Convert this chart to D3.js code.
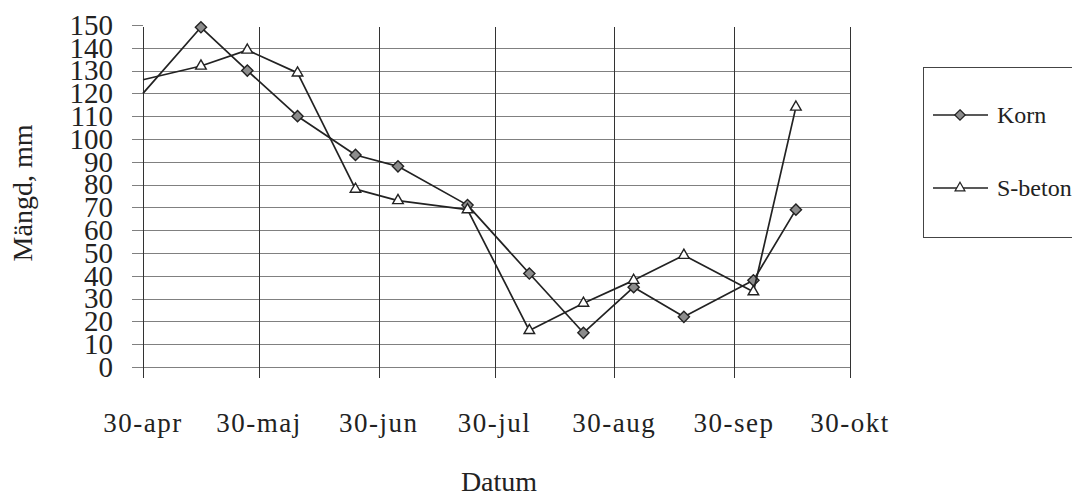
<!DOCTYPE html>
<html>
<head>
<meta charset="utf-8">
<script src="https://cdn.jsdelivr.net/npm/d3@7"></script>
<style>
  html, body { margin: 0; padding: 0; background: #fff; overflow: hidden; }
  svg { display: block; }
  text { font-family: "Liberation Serif", "DejaVu Serif", "Times New Roman", serif; }
</style>
</head>
<body>
<svg id="chart" width="1072" height="497"></svg>
<script>
// Sampling dates and measured amounts (mm)
const sampleDates = ["2001-04-30","2001-05-15","2001-05-27","2001-06-09","2001-06-24","2001-07-05",
                     "2001-07-23","2001-08-08","2001-08-22","2001-09-04","2001-09-17","2001-10-05","2001-10-16"];
const korn   = [120, 149, 130, 110, 93, 88, 71, 41, 15, 35, 22, 38, 69];
const sbeton = [126, 132, 139, 129, 78, 73, 69, 16, 28, 38, 49, 33, 114];
const seriesNames = ["Korn", "S-beton"];

// Axis ticks
const xTickDates  = ["2001-04-30","2001-05-30","2001-06-30","2001-07-30","2001-08-30","2001-09-30","2001-10-30"];
const xTickLabels = ["30-apr","30-maj","30-jun","30-jul","30-aug","30-sep","30-okt"];
const yTicks = [0,10,20,30,40,50,60,70,80,90,100,110,120,130,140,150];

const FONT = "Liberation Serif, DejaVu Serif, Times New Roman, serif";
const parse = d3.timeParse("%Y-%m-%d");
const svg = d3.select("#chart").attr("font-family", FONT);

const x = d3.scaleTime()
  .domain([parse(xTickDates[0]), parse(xTickDates[xTickDates.length - 1])])
  .range([143, 850]);
const y = d3.scaleLinear().domain([0, 150]).range([367, 25]);

const ink = "#222";

// Horizontal grid lines (with outside tick stubs)
svg.append("g").selectAll("line").data(yTicks).join("line")
  .attr("x1", 132)
  .attr("x2", d => d === 150 ? x.range()[0] : x.range()[1])
  .attr("y1", d => Math.round(y(d)) + 0.5).attr("y2", d => Math.round(y(d)) + 0.5)
  .attr("stroke", "#808080").attr("stroke-width", 1);

// Vertical month lines (with tick stubs below the zero line)
svg.append("g").selectAll("line").data(xTickDates).join("line")
  .attr("x1", d => Math.round(x(parse(d))) + 0.5).attr("x2", d => Math.round(x(parse(d))) + 0.5)
  .attr("y1", 27).attr("y2", 378)
  .attr("stroke", "#333").attr("stroke-width", 1);

// Y tick labels
svg.append("g").selectAll("text").data(yTicks).join("text")
  .attr("font-family", FONT)
  .attr("x", 113).attr("y", d => y(d))
  .attr("dy", "0.34em")
  .attr("text-anchor", "end")
  .attr("font-size", 29).attr("fill", ink)
  .text(d => d);

// X tick labels
svg.append("g").selectAll("text").data(xTickDates).join("text")
  .attr("font-family", FONT)
  .attr("x", d => x(parse(d))).attr("y", 432)
  .attr("text-anchor", "middle")
  .attr("font-size", 27).attr("letter-spacing", 1.5).attr("fill", ink)
  .text((d, i) => xTickLabels[i]);

// Axis titles
svg.append("text")
  .attr("font-family", FONT)
  .attr("transform", "translate(32,193) rotate(-90)")
  .attr("text-anchor", "middle")
  .attr("font-size", 28).attr("fill", ink)
  .text("Mängd, mm");
svg.append("text")
  .attr("font-family", FONT)
  .attr("x", 499).attr("y", 491)
  .attr("text-anchor", "middle")
  .attr("font-size", 28).attr("fill", ink)
  .text("Datum");

// Series
const series = [
  { name: seriesNames[0], values: korn,   marker: d3.symbolDiamond2,  fill: "#8c8c8c" },
  { name: seriesNames[1], values: sbeton, marker: d3.symbolTriangle2, fill: "#fff" }
];
const line = d3.line().x(d => x(d.date)).y(d => y(d.value));

series.forEach(s => {
  const pts = sampleDates.map((d, i) => ({ date: parse(d), value: s.values[i] }));
  svg.append("path").datum(pts)
    .attr("d", line)
    .attr("fill", "none").attr("stroke", ink).attr("stroke-width", 1.7)
    .attr("stroke-linejoin", "round");
  svg.append("g").selectAll("path").data(pts.slice(1)).join("path")
    .attr("transform", d => `translate(${x(d.date)},${y(d.value)})`)
    .attr("d", d3.symbol(s.marker, 80))
    .attr("fill", s.fill).attr("stroke", ink).attr("stroke-width", 1.4);
});

// Legend
const legend = svg.append("g");
legend.append("rect")
  .attr("x", 923.5).attr("y", 67.5).attr("width", 170).attr("height", 170)
  .attr("fill", "none").attr("stroke", "#444").attr("stroke-width", 1);
series.forEach((s, i) => {
  const ly = 115 + i * 73;
  legend.append("line")
    .attr("x1", 933).attr("x2", 988).attr("y1", ly).attr("y2", ly)
    .attr("stroke", ink).attr("stroke-width", 1.3);
  legend.append("path")
    .attr("transform", `translate(960,${ly})`)
    .attr("d", d3.symbol(s.marker, 70))
    .attr("fill", s.fill).attr("stroke", ink).attr("stroke-width", 1.2);
  legend.append("text")
    .attr("font-family", FONT)
    .attr("x", 997).attr("y", ly + 8)
    .attr("font-size", 24).attr("fill", ink)
    .text(s.name);
});
</script>
</body>
</html>
